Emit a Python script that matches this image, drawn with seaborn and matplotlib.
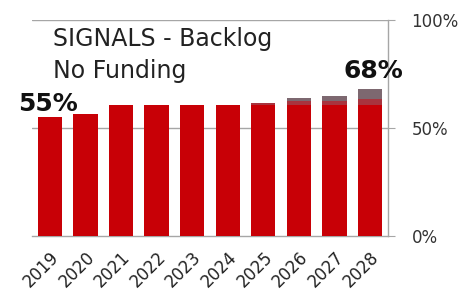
import numpy as np
import pandas as pd
import matplotlib
matplotlib.use("Agg")
import matplotlib.pyplot as plt
import seaborn as sns

years = ["2019", "2020", "2021", "2022", "2023", "2024", "2025", "2026", "2027", "2028"]
base = [55.0, 56.5, 60.5, 60.5, 60.5, 60.5, 60.5, 60.5, 60.5, 60.5]
mid = [0.0, 0.0, 0.0, 0.0, 0.0, 0.0, 1.0, 2.0, 2.0, 3.0]
top = [0.0, 0.0, 0.0, 0.0, 0.0, 0.0, 0.0, 1.5, 2.5, 4.5]
y_ticks = [0, 50, 100]
y_labels = ["0%", "50%", "100%"]

df = pd.DataFrame({"year": years, "base": base, "mid": mid, "top": top})
df["lvl2"] = df["base"] + df["mid"]
df["lvl3"] = df["lvl2"] + df["top"]

sns.set_style("white")
plt.rcParams["font.family"] = ["DejaVu Sans"]

fig = plt.figure(figsize=(4.65, 3.0), dpi=100)
ax = fig.add_axes([0.069, 0.213, 0.765, 0.72])

# grid lines behind the bars
ax.axhline(50, color="#a6a6a6", lw=1, zorder=0)
ax.axhline(100, color="#a6a6a6", lw=1, zorder=0)

# stacked bars drawn as cumulative overlays
sns.barplot(data=df, x="year", y="lvl3", color="#7d6870", width=0.68,
            saturation=1, linewidth=0, ax=ax, zorder=2)
sns.barplot(data=df, x="year", y="lvl2", color="#a8343e", width=0.68,
            saturation=1, linewidth=0, ax=ax, zorder=3)
sns.barplot(data=df, x="year", y="base", color="#c80006", width=0.68,
            saturation=1, linewidth=0, ax=ax, zorder=4)

ax.set_ylim(0, 100)
ax.set_xlim(-0.5, len(years) - 0.5)
ax.yaxis.tick_right()
ax.set_yticks(y_ticks)
ax.set_yticklabels(y_labels, fontsize=12, color="#333333")
ax.tick_params(axis="y", length=5, color="#a6a6a6", pad=12)
ax.set_xticks(range(len(years)))
ax.set_xticklabels(years, rotation=45, ha="right", rotation_mode="anchor",
                   fontsize=12, color="#222222")
ax.tick_params(axis="x", length=0, pad=9)
ax.set_xticks(np.arange(-0.5, len(years), 1), minor=True)
ax.tick_params(axis="x", which="minor", length=4, color="#a6a6a6")
ax.set_xlabel("")
ax.set_ylabel("")

for side in ["left", "top"]:
    ax.spines[side].set_visible(False)
for side in ["right", "bottom"]:
    ax.spines[side].set_color("#a6a6a6")
    ax.spines[side].set_linewidth(1)

ax.text(0.1, 97, "SIGNALS - Backlog\nNo Funding", fontsize=17, color="#222222",
        va="top", ha="left", linespacing=1.45)
ax.text(-0.05, base[0] + 0.5, "55%", fontsize=18, fontweight="bold", ha="center",
        va="bottom", color="#111111")
ax.text(9.1, df["lvl3"].iloc[-1] + 3, "68%", fontsize=18, fontweight="bold",
        ha="center", va="bottom", color="#111111")

fig.savefig("out.png", dpi=100)
